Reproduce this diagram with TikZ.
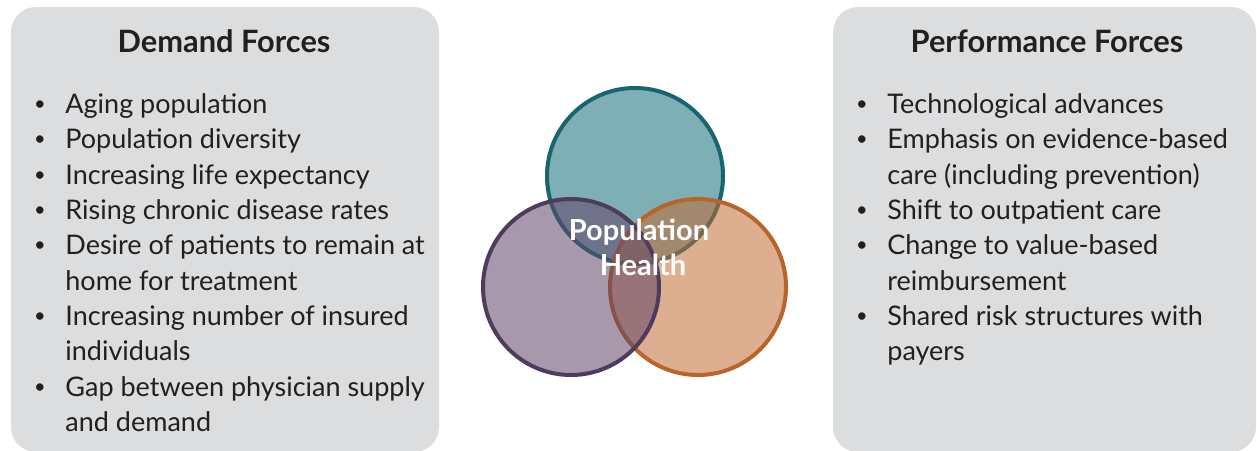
\documentclass[tikz,border=0pt]{standalone}
\usepackage{fontspec}
\setmainfont{Lato}
\definecolor{boxgray}{HTML}{DCDDDE}
\definecolor{txt}{HTML}{231F20}
\definecolor{tealfill}{HTML}{126D79}
\definecolor{tealline}{HTML}{17666F}
\definecolor{orangefill}{HTML}{C16B33}
\definecolor{orangeline}{HTML}{B8642A}
\definecolor{purplefill}{HTML}{614466}
\definecolor{purpleline}{HTML}{4E3B5E}
\tikzset{
  panel/.style={fill=boxgray, draw=none, rounded corners=12.5pt},
  paneltitle/.style={anchor=base, font=\fontsize{15.4}{18}\selectfont\bfseries, text=txt, inner sep=0pt},
  itemline/.style={anchor=base west, font=\fontsize{13.5}{17.65}\selectfont, text=txt, inner sep=0pt},
  bul/.style={anchor=base, font=\fontsize{10}{12}\selectfont, text=txt, inner sep=0pt},
  ring/.style={line width=2pt, fill opacity=0.55, draw opacity=1},
  centertext/.style={anchor=base, font=\fontsize{14.5}{17.5}\selectfont\bfseries, text=white, inner sep=0pt}
}
\begin{document}
\begin{tikzpicture}[x=0.5pt,y=-0.5pt]
\useasboundingbox (0,0) rectangle (1257,450);
% panels
\fill[panel] (11,7) rectangle (439,452);
\fill[panel] (833,7) rectangle (1256,452);
% titles
\node[paneltitle] (dtitle) at (224,52) {Demand Forces};
\node[paneltitle] (ptitle) at (1047,52) {Performance Forces};
% left list
\node[bul] (db1) at (40,110) {•};
\node[itemline] (d1) at (65,113) {Aging population};
\node[bul] (db2) at (40,145.5) {•};
\node[itemline] (d2) at (65,148.5) {Population diversity};
\node[bul] (db3) at (40,181) {•};
\node[itemline] (d3) at (65,184) {Increasing life expectancy};
\node[bul] (db4) at (40,216) {•};
\node[itemline] (d4) at (65,219) {Rising chronic disease rates};
\node[bul] (db5) at (40,251.5) {•};
\node[itemline] (d5a) at (65,254.5) {Desire of patients to remain at};
\node[itemline] (d5b) at (65,290) {home for treatment};
\node[bul] (db6) at (40,322) {•};
\node[itemline] (d6a) at (65,325) {Increasing number of insured};
\node[itemline] (d6b) at (65,360.5) {individuals};
\node[bul] (db7) at (40,393) {•};
\node[itemline] (d7a) at (65,396) {Gap between physician supply};
\node[itemline] (d7b) at (65,431) {and demand};
% right list
\node[bul] (pb1) at (862,110) {•};
\node[itemline] (p1) at (887,113) {Technological advances};
\node[bul] (pb2) at (862,145.5) {•};
\node[itemline] (p2a) at (887,148.5) {Emphasis on evidence-based};
\node[itemline] (p2b) at (887,184) {care (including prevention)};
\node[bul] (pb3) at (862,216) {•};
\node[itemline] (p3) at (887,219) {Shift to outpatient care};
\node[bul] (pb4) at (862,251.5) {•};
\node[itemline] (p4a) at (887,254.5) {Change to value-based};
\node[itemline] (p4b) at (887,290) {reimbursement};
\node[bul] (pb5) at (862,322) {•};
\node[itemline] (p5a) at (887,325) {Shared risk structures with};
\node[itemline] (p5b) at (887,360.5) {payers};
% venn circles
\draw[ring, draw=tealline, fill=tealfill] (635,176) circle[radius=44pt];
\draw[ring, draw=orangeline, fill=orangefill] (698,287) circle[radius=44pt];
\draw[ring, draw=purpleline, fill=purplefill] (571,287) circle[radius=44pt];
% centre label
\node[centertext] (ph1) at (639,240) {Population};
\node[centertext] (ph2) at (643,275) {Health};
\end{tikzpicture}
\end{document}
